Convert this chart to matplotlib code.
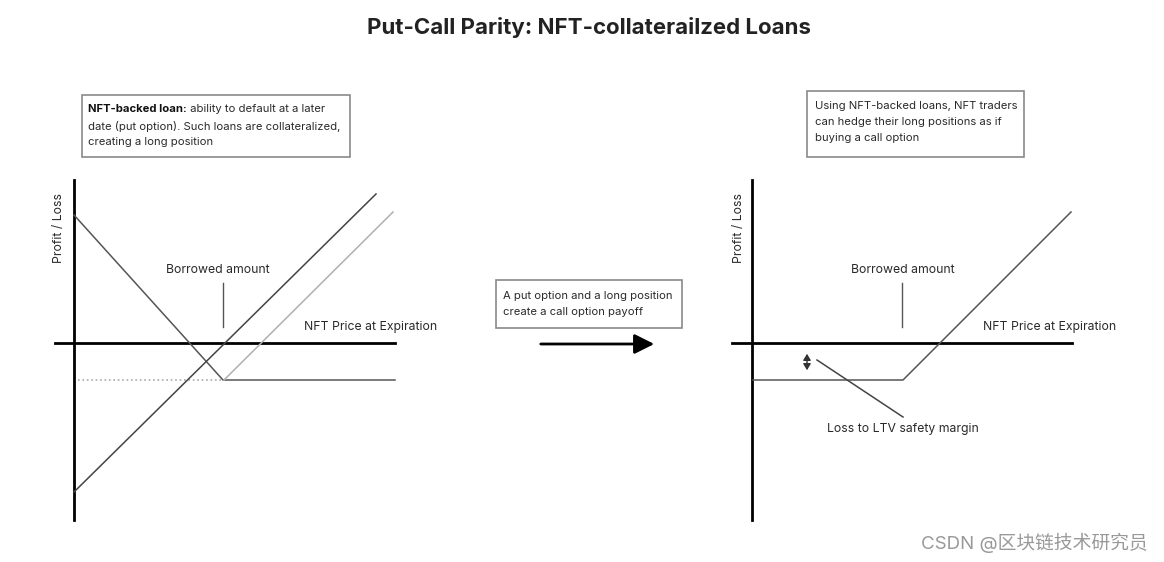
import matplotlib.pyplot as plt
from matplotlib.patches import FancyArrowPatch, Rectangle

plt.rcParams['font.family'] = ['Inter', 'Noto Sans CJK SC', 'DejaVu Sans']

# canvas is in pixel units (y grows downwards)
# left panel: put option + long position
left_axis_x = [55, 395]
left_axis_y = [343, 343]
left_vaxis_x = [74, 74]
left_vaxis_y = [180, 520]
put_x = [74, 223, 395]
put_y = [215, 380, 380]
floor_x = [78, 223]
floor_y = [380, 380]
long_x = [74, 376]
long_y = [492, 194]
shifted_x = [224, 393]
shifted_y = [380, 212]
left_borrow_x = [223, 223]
left_borrow_y = [283, 327]

# right panel: resulting call payoff
right_axis_x = [732, 1072]
right_axis_y = [343, 343]
right_vaxis_x = [752, 752]
right_vaxis_y = [180, 520]
call_x = [753, 903, 1071]
call_y = [380, 380, 212]
right_borrow_x = [902, 902]
right_borrow_y = [283, 327]
ltv_x = [817, 903]
ltv_y = [360, 417]

box_left_bold = "NFT-backed loan:"
box_left_rest = " ability to default at a later"
box_left_more = "date (put option). Such loans are collateralized,\ncreating a long position"
box_right = "Using NFT-backed loans, NFT traders\ncan hedge their long positions as if\nbuying a call option"
box_mid = "A put option and a long position\ncreate a call option payoff"

TXT = '#2a2a2a'
BOXFS = 8.1
LBLFS = 8.8
LS = 1.7

fig = plt.figure(figsize=(11.64, 5.62), dpi=100)
ax = fig.add_axes([0, 0, 1, 1])
ax.set_xlim(0, 1164)
ax.set_ylim(562, 0)
ax.axis('off')


def box(x0, y0, x1, y1):
    ax.add_patch(Rectangle((x0, y0), x1 - x0, y1 - y0, fc='white', ec='#8a8a8a', lw=1.2))


# left panel
ax.plot(left_axis_x, left_axis_y, color='black', lw=2)
ax.plot(left_vaxis_x, left_vaxis_y, color='black', lw=2)
ax.plot(floor_x, floor_y, color='#aaaaaa', lw=1.2, ls=':')
ax.plot(put_x, put_y, color='#555555', lw=1.1)
ax.plot(long_x, long_y, color='#444444', lw=1.1)
ax.plot(shifted_x, shifted_y, color='#b0b0b0', lw=1.1)
ax.plot(left_borrow_x, left_borrow_y, color='#555555', lw=1)
ax.text(218, 270, 'Borrowed amount', ha='center', va='center', fontsize=LBLFS, color=TXT)
ax.text(371, 327, 'NFT Price at Expiration', ha='center', va='center', fontsize=LBLFS, color=TXT)
ax.text(59, 228, 'Profit / Loss', ha='center', va='center', rotation=90, fontsize=LBLFS, color=TXT)
box(82, 95, 350, 157)
t = ax.text(88, 109, box_left_bold, ha='left', va='center', fontsize=BOXFS, color='#111111',
            fontweight='bold')
ax.annotate(box_left_rest, xy=(1, 0.5), xycoords=t, ha='left', va='center', fontsize=BOXFS, color=TXT)
ax.text(88, 134, box_left_more, ha='left', va='center', fontsize=BOXFS, color=TXT, linespacing=LS)

# middle
box(496, 280, 682, 328)
ax.text(503, 304, box_mid, ha='left', va='center', fontsize=BOXFS, color=TXT, linespacing=LS)
ax.add_patch(FancyArrowPatch((538, 344), (657, 344), arrowstyle='-|>,head_length=8,head_width=4',
                             color='black', lw=2, mutation_scale=1.5))

# right panel
ax.plot(right_axis_x, right_axis_y, color='black', lw=2)
ax.plot(right_vaxis_x, right_vaxis_y, color='black', lw=2)
ax.plot(call_x, call_y, color='#555555', lw=1.1)
ax.plot(right_borrow_x, right_borrow_y, color='#555555', lw=1)
ax.plot(ltv_x, ltv_y, color='#444444', lw=1.1)
ax.add_patch(FancyArrowPatch((807, 351), (807, 373), arrowstyle='<|-|>,head_length=2.5,head_width=1.5',
                             color='#333333', lw=1, mutation_scale=1.5))
ax.text(903, 270, 'Borrowed amount', ha='center', va='center', fontsize=LBLFS, color=TXT)
ax.text(1050, 327, 'NFT Price at Expiration', ha='center', va='center', fontsize=LBLFS, color=TXT)
ax.text(903, 429, 'Loss to LTV safety margin', ha='center', va='center', fontsize=LBLFS, color=TXT)
ax.text(739, 228, 'Profit / Loss', ha='center', va='center', rotation=90, fontsize=LBLFS, color=TXT)
box(807, 91, 1024, 157)
ax.text(815, 122, box_right, ha='left', va='center', fontsize=BOXFS, color=TXT, linespacing=LS)

ax.text(589, 27, 'Put-Call Parity: NFT-collaterailzed Loans', ha='center', va='center',
        fontsize=16, fontweight='bold', color='#222222')
ax.text(1148, 543, 'CSDN @区块链技术研究员', ha='right', va='center', fontsize=13.5, color='#999999')

fig.savefig('out.png', dpi=100)
